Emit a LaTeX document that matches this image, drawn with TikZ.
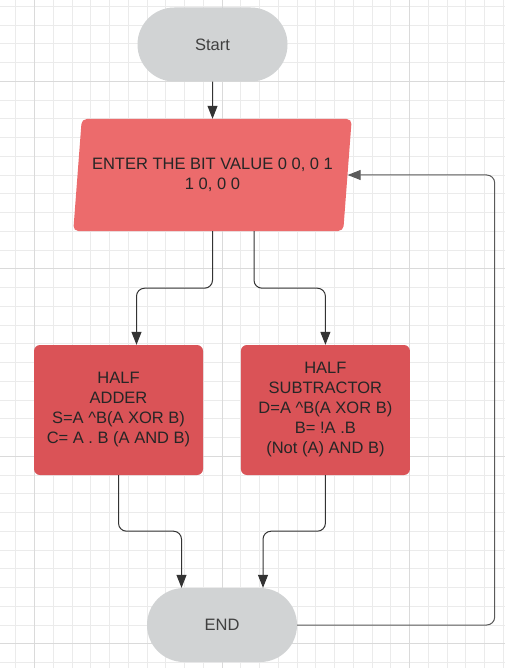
\documentclass[tikz,border=0pt]{standalone}
\usepackage{fontspec}
\setmainfont{Liberation Sans}
\usepackage{xcolor}
\usetikzlibrary{shapes.geometric,arrows.meta,positioning}

\definecolor{termgray}{HTML}{D1D3D4}
\definecolor{inred}{HTML}{EC6B6C}
\definecolor{boxred}{HTML}{DA5357}
\definecolor{gridline}{HTML}{EBEBEB}
\definecolor{gridmajor}{HTML}{DADADA}
\definecolor{linkgray}{HTML}{333333}
\definecolor{loopgray}{HTML}{5A5A5A}

\begin{document}
\begin{tikzpicture}[
    x = 1pt, y = -1pt,
    node distance = 37.5pt,
    every node/.style = {align=center, font=\fontsize{16.5}{20}\selectfont},
    terminal/.style = {rectangle, rounded corners=36.9pt, fill=termgray,
      text=black!75, minimum width=150pt, minimum height=74pt},
    inputbox/.style = {trapezium, trapezium left angle=76.9,
      trapezium right angle=103.1, trapezium stretches=true,
      rounded corners=5pt, fill=inred, text=black!85, inner sep=0pt,
      minimum width=279pt, minimum height=112pt},
    process/.style = {rectangle, rounded corners=6pt, fill=boxred,
      text=black!85, minimum width=169pt, minimum height=130pt},
    >={Triangle[length=13pt, width=10pt]},
    link/.style = {->, draw=linkgray, line width=1pt, rounded corners=8pt}
  ]

  % paper and grid
  \fill[white] (0,0) rectangle (505,668);
  \useasboundingbox (0,0) rectangle (505,668);
  \foreach \k in {0,...,26}
    \draw[gridline, line width=0.8pt] ({15.75+18.75*\k},0) -- ({15.75+18.75*\k},668);
  \foreach \k in {0,...,35}
    \draw[gridline, line width=0.8pt] (0,{6.25+18.75*\k}) -- (505,{6.25+18.75*\k});
  \foreach \k in {1,11,21}
    \draw[gridmajor, line width=0.8pt] ({15.75+18.75*\k},0) -- ({15.75+18.75*\k},668);
  \foreach \k in {4,14,24,34}
    \draw[gridmajor, line width=0.8pt] (0,{6.25+18.75*\k}) -- (505,{6.25+18.75*\k});

  \node[terminal] (start) at (212.5,44.5) {Start};
  \node[inputbox] (input) at (212.5,175) {ENTER THE BIT VALUE 0 0, 0 1\\1 0, 0 0};
  \node[process] (adder) at (118.5,410)
    {HALF\\ADDER\\S=A \textasciicircum B(A XOR B)\\C= A . B (A AND B)};
  \node[process, right=37.5pt of adder] (subtr)
    {HALF\\SUBTRACTOR\\D=A \textasciicircum B(A XOR B)\\B= !A .B\\(Not (A) AND B)};
  \node[terminal] (stop) at (222,625) {END};

  \draw[link] (start) -- (input);
  \draw[link] (input.south -| start) -- ++(0,57) -| ([xshift=18pt]adder.north);
  \draw[link] ([xshift=41.5pt]start.south |- input.south) -- ++(0,57) -| (subtr.north);
  \draw[link] (adder.south) -- ++(0,56) -| ([xshift=-40.5pt]stop.north);
  \draw[link] (subtr.south) -- ++(0,56) -| ([xshift=41pt]stop.north);
  \draw[link, draw=loopgray] (stop.east) -- ++(197.5,0) |- (input.east);

\end{tikzpicture}
\end{document}
